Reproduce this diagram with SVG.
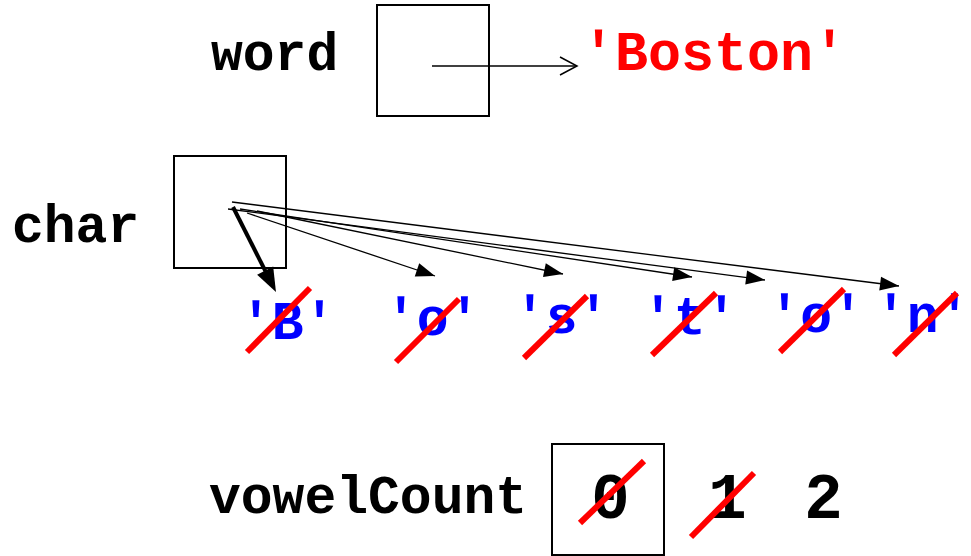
<svg xmlns="http://www.w3.org/2000/svg" width="971" height="556" viewBox="0 0 971 556">
  <style>
    .lbl { font-family: "Courier New", "Liberation Mono", monospace; font-weight: bold; font-size: 53px; fill: #000; }
    .str { font-family: "Courier New", "Liberation Mono", monospace; font-weight: bold; font-size: 55px; fill: #FF0000; }
    .ch { font-family: "Courier New", "Liberation Mono", monospace; font-weight: bold; font-size: 53px; fill: #0000FF; }
    .num { font-family: "Courier New", "Liberation Mono", monospace; font-weight: bold; font-size: 64px; fill: #000; text-anchor: middle; }
    .box { fill: none; stroke: #000; stroke-width: 2; }
    .thin { fill: none; stroke: #000; stroke-width: 1.3; }
    .thick { fill: none; stroke: #000; stroke-width: 4; }
    .strike { stroke: #FF0000; stroke-width: 6; }
  </style>
  <defs>
    <marker id="open" markerUnits="userSpaceOnUse" markerWidth="20" markerHeight="20" refX="17" refY="9" orient="auto" overflow="visible">
      <path d="M0,0 L17,9 L0,18" fill="none" stroke="#000" stroke-width="1.5"/>
    </marker>
    <marker id="fill" markerUnits="userSpaceOnUse" markerWidth="20" markerHeight="14" refX="19" refY="7" orient="auto" overflow="visible">
      <path d="M0,0 L19,7 L0,14 z" fill="#000"/>
    </marker>
    <marker id="big" markerUnits="userSpaceOnUse" markerWidth="24" markerHeight="18" refX="9" refY="9" orient="auto" overflow="visible">
      <path d="M0,0 L24,9 L0,18 z" fill="#000"/>
    </marker>
  </defs>

  <g id="word">
    <text class="lbl" x="211" y="70">word</text>
    <rect class="box" x="377" y="5" width="112" height="111"/>
  </g>
  <g id="boston">
    <text class="str" x="582" y="70">'Boston'</text>
  </g>

  <g id="char">
    <text class="lbl" x="12" y="242">char</text>
    <rect class="box" x="174" y="156" width="112" height="112"/>
  </g>

  <g id="chB">
    <text class="ch" x="240" y="339">'B'</text>
    <line class="strike" x1="247" y1="352" x2="310" y2="288"/>
  </g>
  <g id="cho1">
    <text class="ch" x="385" y="335">'o'</text>
    <line class="strike" x1="396" y1="362" x2="459" y2="299"/>
  </g>
  <g id="chs">
    <text class="ch" x="514" y="333">'s'</text>
    <line class="strike" x1="524" y1="358" x2="587" y2="296"/>
  </g>
  <g id="cht">
    <text class="ch" x="642" y="334">'t'</text>
    <line class="strike" x1="652" y1="355" x2="716" y2="293"/>
  </g>
  <g id="cho2">
    <text class="ch" x="768.5" y="332">'o'</text>
    <line class="strike" x1="780" y1="352" x2="844" y2="289"/>
  </g>
  <g id="chn">
    <text class="ch" x="875" y="332">'n'</text>
    <line class="strike" x1="894" y1="355" x2="957" y2="293"/>
  </g>

  <g id="vowelCount">
    <text class="lbl" x="209" y="513">vowelCount</text>
    <rect class="box" x="552" y="444" width="112" height="111"/>
    <text class="num" x="610.5" y="518">0</text>
    <line class="strike" x1="580" y1="523" x2="644" y2="461"/>
  </g>
  <g id="val1">
    <text class="num" x="727.5" y="518">1</text>
    <line class="strike" x1="691" y1="537" x2="754" y2="473"/>
  </g>
  <g id="val2">
    <text class="num" x="823.5" y="518">2</text>
  </g>

  <g id="connectors">
    <line class="thin" x1="432" y1="66" x2="577" y2="66" marker-end="url(#open)"/>
    <line class="thick" x1="233" y1="207" x2="269.2" y2="278.6" marker-end="url(#big)"/>
    <line class="thin" x1="247" y1="213" x2="435" y2="276" marker-end="url(#fill)"/>
    <line class="thin" x1="257" y1="211" x2="563" y2="274" marker-end="url(#fill)"/>
    <line class="thin" x1="240" y1="209" x2="692" y2="277" marker-end="url(#fill)"/>
    <line class="thin" x1="228" y1="209" x2="765" y2="280" marker-end="url(#fill)"/>
    <line class="thin" x1="232" y1="202" x2="899" y2="286" marker-end="url(#fill)"/>
  </g>
</svg>
